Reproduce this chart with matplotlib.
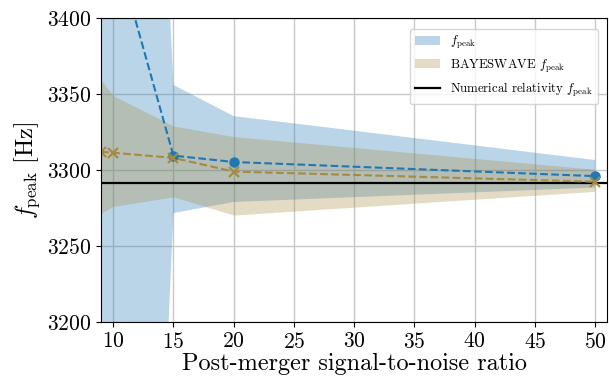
import numpy as np
import matplotlib.pyplot as plt

plt.rcParams["font.family"] = "serif"
plt.rcParams["font.serif"] = ["cmr10"]
plt.rcParams["mathtext.fontset"] = "cm"
plt.rcParams["axes.formatter.use_mathtext"] = True
plt.rcParams["axes.unicode_minus"] = False

# Data
snr = [9, 10, 15, 20, 50]

fpeak = [3480, 3451, 3309.5, 3305.3, 3296]
fpeak_lo = [2250, 2372, 3271.7, 3279, 3288.5]
fpeak_hi = [4300, 4200, 3356, 3335.5, 3306.6]

bw_fpeak = [3312, 3311.4, 3308, 3299, 3292.3]
bw_lo = [3271.7, 3276, 3282.4, 3270.4, 3286]
bw_hi = [3359, 3349, 3329, 3322, 3300.5]

nr_fpeak = 3291.5

c_blue = "#1f77b4"
c_tan = "#a68a40"

fig = plt.figure(figsize=(6.09, 3.83), dpi=100)
ax = fig.add_axes([0.166, 0.159, 0.831, 0.794])

ax.fill_between(snr, fpeak_lo, fpeak_hi, color=c_blue, alpha=0.3, lw=0,
                label=r"$f_{\rm peak}$")
ax.fill_between(snr, bw_lo, bw_hi, color=c_tan, alpha=0.3, lw=0,
                label=r"BAYESWAVE $f_{\rm peak}$")
ax.axhline(nr_fpeak, color="black", lw=1.6,
           label=r"Numerical relativity $f_{\rm peak}$")

ax.plot(snr, fpeak, "--o", color=c_blue, ms=6.5, lw=1.5)
ax.plot(snr, bw_fpeak, "--x", color=c_tan, ms=7, mew=1.5, lw=1.5)

ax.set_xlim(9, 51)
ax.set_ylim(3200, 3400)
ax.set_xticks(np.arange(10, 51, 5))
ax.set_yticks(np.arange(3200, 3401, 50))
ax.tick_params(labelsize=15.5)
ax.grid(True, color="#c8c8c8", lw=1)
ax.set_axisbelow(True)

ax.set_xlabel("Post-merger signal-to-noise ratio", fontsize=17.5, labelpad=1)
ax.set_ylabel(r"$f_{\rm peak}$ [Hz]", fontsize=17.5, labelpad=4)

ax.legend(loc="upper right", fontsize=9.2, framealpha=0.8,
          bbox_to_anchor=(0.995, 0.985))

fig.savefig("out.png", dpi=100)
